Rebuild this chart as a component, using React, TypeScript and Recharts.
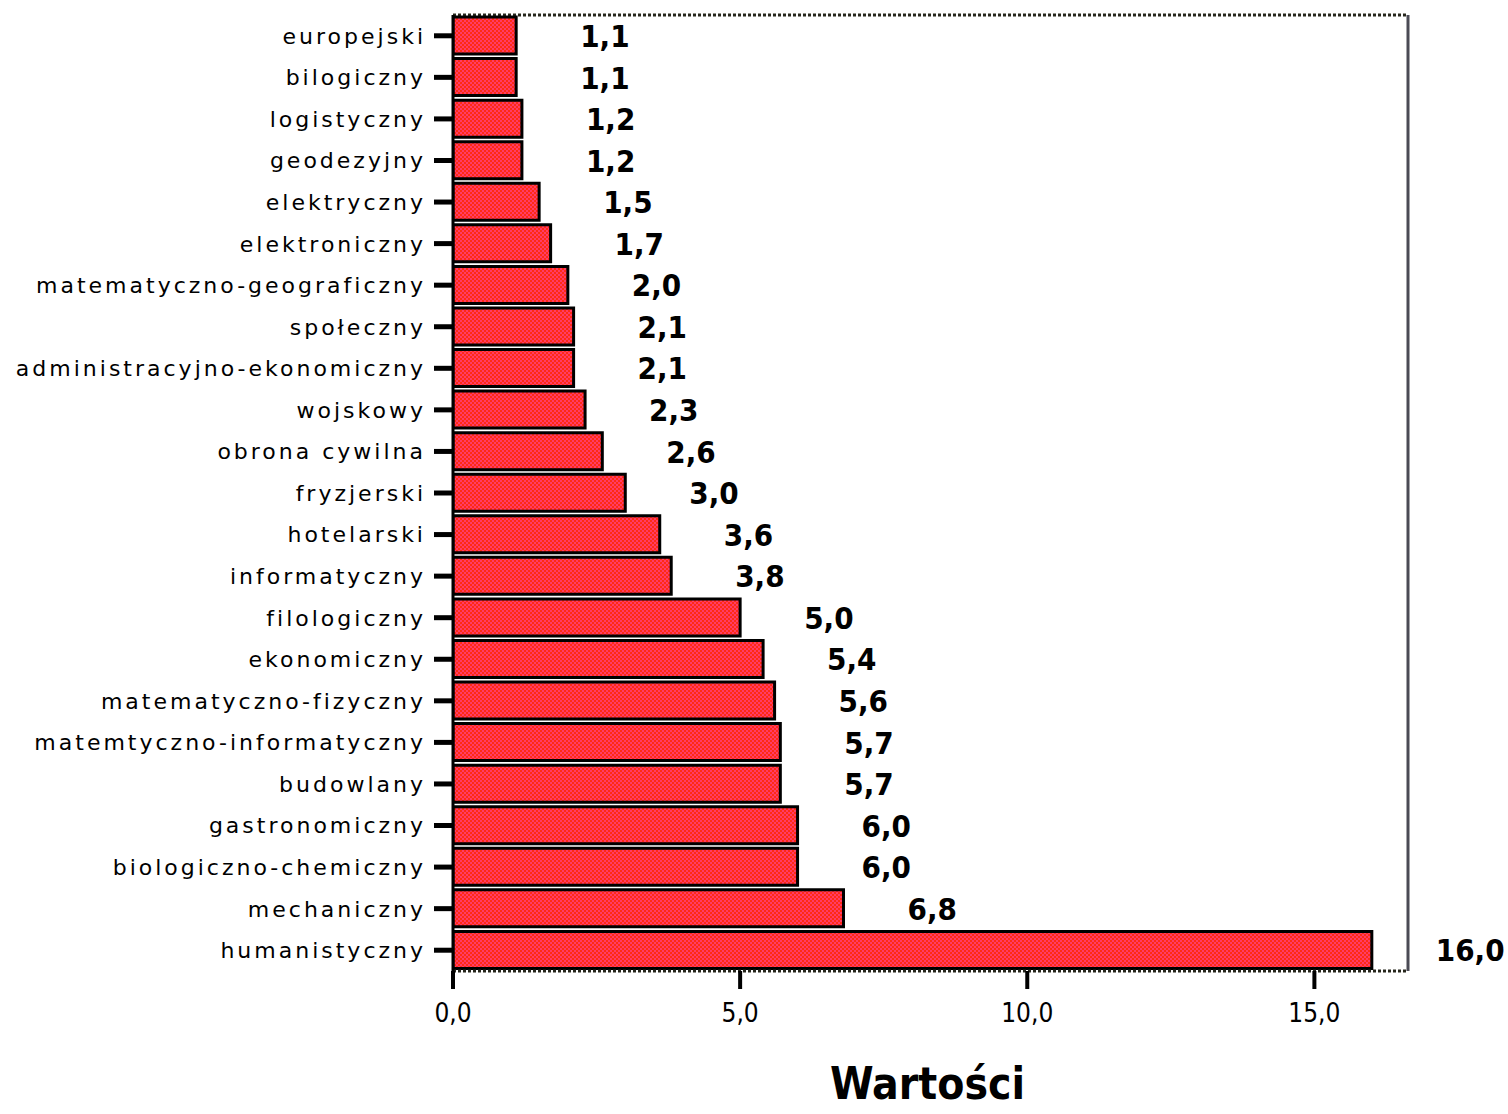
import React from 'react';
import { BarChart, Bar, XAxis, YAxis, LabelList, Label, CartesianGrid } from 'recharts';

const categories: string[] = [
  'europejski',
  'bilogiczny',
  'logistyczny',
  'geodezyjny',
  'elektryczny',
  'elektroniczny',
  'matematyczno-geograficzny',
  'społeczny',
  'administracyjno-ekonomiczny',
  'wojskowy',
  'obrona cywilna',
  'fryzjerski',
  'hotelarski',
  'informatyczny',
  'filologiczny',
  'ekonomiczny',
  'matematyczno-fizyczny',
  'matemtyczno-informatyczny',
  'budowlany',
  'gastronomiczny',
  'biologiczno-chemiczny',
  'mechaniczny',
  'humanistyczny',
];

const values: number[] = [
  1.1, 1.1, 1.2, 1.2, 1.5, 1.7, 2.0, 2.1, 2.1, 2.3, 2.6, 3.0, 3.6, 3.8, 5.0, 5.4, 5.6, 5.7, 5.7, 6.0,
  6.0, 6.8, 16.0,
];

const xTicks: number[] = [0, 5, 10, 15];
const xMax = 16.63;
const axisTitle = 'Wartości';

const data = categories.map((name, i) => ({ name, value: values[i] }));

const fmt = (v: number) => v.toFixed(1).replace('.', ',');

const YTick = (props: any) => {
  const { x, y, payload } = props;
  return (
    <text
      x={x}
      y={y}
      dy="0.36em"
      textAnchor="end"
      fill="#000"
      style={{ fontFamily: "'DejaVu Sans', sans-serif", fontSize: 22, letterSpacing: 3 }}
    >
      {payload.value}
    </text>
  );
};

const XTick = (props: any) => {
  const { x, y, payload } = props;
  return (
    <text
      x={x}
      y={y}
      dy="0.72em"
      textAnchor="middle"
      fill="#000"
      style={{ fontFamily: "'DejaVu Sans Condensed', 'DejaVu Sans', sans-serif", fontStretch: 'condensed', fontSize: 26 }}
    >
      {fmt(payload.value)}
    </text>
  );
};

const ValueLabel = (props: any) => {
  const { x, y, width, height, value } = props;
  return (
    <text
      x={Number(x) + Number(width) + 64}
      y={Number(y) + Number(height) / 2}
      dy="0.37em"
      textAnchor="start"
      fill="#000"
      style={{
        fontFamily: "'DejaVu Sans Condensed', 'DejaVu Sans', sans-serif",
        fontStretch: 'condensed',
        fontWeight: 'bold',
        fontSize: 31,
      }}
    >
      {fmt(value)}
    </text>
  );
};

const TitleLabel = (props: any) => {
  const vb = props.viewBox || {};
  return (
    <text
      x={vb.x + vb.width / 2 - 3}
      y={vb.y + 128}
      textAnchor="middle"
      fill="#000"
      style={{
        fontFamily: "'DejaVu Sans Condensed', 'DejaVu Sans', sans-serif",
        fontStretch: 'condensed',
        fontWeight: 'bold',
        fontSize: 44,
      }}
    >
      {axisTitle}
    </text>
  );
};

export default function App() {
  return (
    <div style={{ position: 'absolute', left: 0, top: 0, width: 1508, height: 1114, background: '#fff' }}>
      <BarChart
        width={1508}
        height={1114}
        data={data}
        layout="vertical"
        margin={{ top: 15, right: 100, bottom: 83, left: 0 }}
        barSize={37}
      >
        <defs>
          <pattern id="checker" width="4" height="4" patternUnits="userSpaceOnUse">
            <rect x="0" y="0" width="4" height="4" fill="#ff2a14" />
            <rect x="0" y="0" width="2" height="2" fill="#ff3c66" />
            <rect x="2" y="2" width="2" height="2" fill="#ff3c66" />
          </pattern>
        </defs>
        <CartesianGrid
          vertical={false}
          horizontal
          horizontalCoordinatesGenerator={({ offset }: any) => [offset.top]}
          stroke="#26261c"
          strokeWidth={3}
          strokeDasharray="3 2"
        />
        <CartesianGrid
          horizontal={false}
          vertical
          verticalCoordinatesGenerator={({ offset }: any) => [offset.left + offset.width]}
          stroke="#4b4b55"
          strokeWidth={3}
        />
        <XAxis
          type="number"
          domain={[0, xMax]}
          ticks={xTicks}
          allowDataOverflow
          height={60}
          axisLine={{ stroke: '#26261c', strokeWidth: 3, strokeDasharray: '3 2' }}
          tickLine={{ stroke: '#000', strokeWidth: 4 }}
          tickSize={18}
          tickMargin={14}
          tick={<XTick />}
        >
          <Label content={<TitleLabel />} position="bottom" />
        </XAxis>
        <YAxis
          type="category"
          dataKey="name"
          width={453}
          axisLine={{ stroke: '#000', strokeWidth: 3 }}
          tickLine={{ stroke: '#000', strokeWidth: 5 }}
          tickSize={19}
          tickMargin={8}
          tick={<YTick />}
          interval={0}
        />
        <Bar dataKey="value" fill="url(#checker)" stroke="#000" strokeWidth={3} isAnimationActive={false}>
          <LabelList dataKey="value" content={<ValueLabel />} />
        </Bar>
      </BarChart>
    </div>
  );
}
